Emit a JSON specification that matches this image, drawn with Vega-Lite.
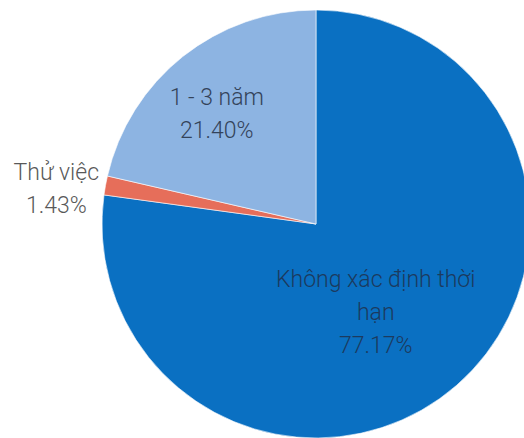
{
  "$schema": "https://vega.github.io/schema/vega-lite/v6.json",
  "width": 400,
  "height": 400,
  "autosize": "none",
  "padding": {"left": 116, "top": 24, "right": 8, "bottom": 14},
  "background": "white",
  "view": {"stroke": null},
  "config": {"text": {"font": "Roboto", "fontWeight": 300, "fontSize": 23, "lineHeight": 33, "lineBreak": "\n", "align": "center", "baseline": "middle"}},
  "data": {
    "values": [
      {"loai": "Không xác định thời hạn", "tyle": 77.17, "thu_tu": 1, "nhan": "Không xác định thời\nhạn\n77.17%"},
      {"loai": "Thử việc", "tyle": 1.43, "thu_tu": 2, "nhan": "Thử việc\n1.43%"},
      {"loai": "1 - 3 năm", "tyle": 21.40, "thu_tu": 3, "nhan": "1 - 3 năm\n21.40%"}
    ]
  },
  "encoding": {
    "theta": {"field": "tyle", "type": "quantitative", "stack": true},
    "order": {"field": "thu_tu", "type": "quantitative"}
  },
  "layer": [
    {
      "mark": {"type": "arc", "outerRadius": 214, "stroke": "white", "strokeWidth": 0.6},
      "encoding": {
        "color": {
          "field": "loai",
          "type": "nominal",
          "scale": {"domain": ["Không xác định thời hạn", "Thử việc", "1 - 3 năm"], "range": ["#0a70c2", "#e66e5a", "#8db4e2"]},
          "legend": null
        }
      }
    },
    {
      "mark": {"type": "text", "radius": 100, "dx": -6, "dy": -19, "fill": "#1c3a5e"},
      "encoding": {"text": {"condition": {"test": "datum.loai === 'Không xác định thời hạn'", "field": "nhan"}, "value": ""}}
    },
    {
      "mark": {"type": "text", "radius": 264, "dx": 0, "dy": -3, "fill": "#595959"},
      "encoding": {"text": {"condition": {"test": "datum.loai === 'Thử việc'", "field": "nhan"}, "value": ""}}
    },
    {
      "mark": {"type": "text", "radius": 148, "dx": -7, "dy": -10, "fill": "#34435a"},
      "encoding": {"text": {"condition": {"test": "datum.loai === '1 - 3 năm'", "field": "nhan"}, "value": ""}}
    }
  ]
}
